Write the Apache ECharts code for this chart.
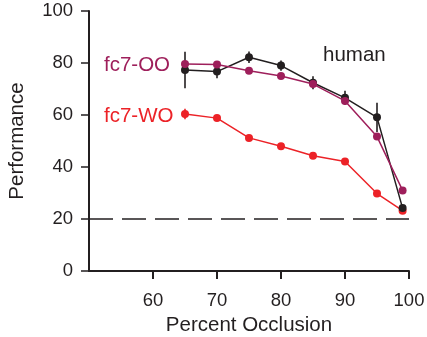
<!DOCTYPE html>
<html><head><meta charset="utf-8">
<script src="https://cdn.jsdelivr.net/npm/echarts@6/dist/echarts.min.js"></script>
<style>html,body{margin:0;padding:0;background:#fff}#c{width:427px;height:337px}</style>
</head><body><div id="c"></div>
<script>
const occlusion = [65, 70, 75, 80, 85, 90, 95, 99];
const human = [77.3, 76.7, 82.2, 79, 72.4, 66.6, 59.1, 24.2];
const humanErr = [7, 2.6, 2.2, 2, 2.5, 2.7, 5.6, 1];
const fc7OO = [79.6, 79.4, 77, 75, 71.9, 65.4, 51.7, 31];
const fc7WO = [60.4, 58.8, 51.2, 48, 44.3, 42.1, 29.8, 23.2];
const fc7WOErr = [2, 0, 0, 0, 0, 0, 0, 0];
const chance = 20;
const xTicks = [60, 70, 80, 90, 100];
const yTicks = [0, 20, 40, 60, 80, 100];

const cBlack = '#231f20', cPurple = '#9e1f5b', cRed = '#ec2227';
const font = 'Liberation Sans, Arial, sans-serif';

function pairs(v){ return occlusion.map((x,i)=>[x, v[i]]); }
function errData(v, e){ return occlusion.map((x,i)=>[x, v[i]-e[i], v[i]+e[i]]); }
function errSeries(v, e, color){
  return {
    type:'custom', data: errData(v,e), z: 1,
    renderItem(params, api){
      const p1 = api.coord([api.value(0), api.value(1)]);
      const p2 = api.coord([api.value(0), api.value(2)]);
      return {type:'line', shape:{x1:p1[0],y1:p1[1],x2:p2[0],y2:p2[1]}, style:{stroke:color, lineWidth:1.6}};
    }
  };
}
const chart = echarts.init(document.getElementById('c'));
chart.setOption({
  animation:false,
  grid:{left:89, right:18, top:11, bottom:66, containLabel:false, outerBoundsMode:'none'},
  xAxis:{type:'value', min:50, max:100, interval:10,
    name:'Percent Occlusion', nameLocation:'middle', nameGap:42,
    nameTextStyle:{fontFamily:font, fontSize:20.5, color:cBlack},
    axisLine:{show:true, lineStyle:{color:cBlack, width:2}},
    axisTick:{show:true, length:8, lineStyle:{color:cBlack, width:2}, customValues: xTicks},
    axisLabel:{fontFamily:font, fontSize:18.5, color:cBlack, margin:20, customValues: xTicks},
    splitLine:{show:false}},
  yAxis:{type:'value', min:0, max:100, interval:20,
    name:'Performance', nameLocation:'middle', nameGap:61,
    nameTextStyle:{fontFamily:font, fontSize:20.5, color:cBlack},
    axisLine:{show:true, lineStyle:{color:cBlack, width:2}},
    axisTick:{show:true, length:8, lineStyle:{color:cBlack, width:1.5}, customValues: yTicks},
    axisLabel:{fontFamily:font, fontSize:18.5, color:cBlack, margin:16, customValues: yTicks},
    splitLine:{show:false}},
  graphic:[
    {type:'text', x:104, y:65, style:{text:'fc7-OO', fill:cPurple, font:'20.5px '+font, textVerticalAlign:'middle'}},
    {type:'text', x:104, y:116, style:{text:'fc7-WO', fill:cRed, font:'20.5px '+font, textVerticalAlign:'middle'}},
    {type:'text', x:323, y:55, style:{text:'human', fill:cBlack, font:'20.5px '+font, textVerticalAlign:'middle'}}
  ],
  series:[
    {type:'line', data:[[50,chance],[100,chance]], symbol:'none', z:0,
      lineStyle:{color:cBlack, width:1.3, type:[24,9]}},
    errSeries(human, humanErr, cBlack),
    errSeries(fc7WO, fc7WOErr, cRed),
    {type:'line', data:pairs(fc7WO), symbol:'circle', symbolSize:8,
      itemStyle:{color:cRed}, lineStyle:{color:cRed, width:1.5}, z:2},
    {type:'line', data:pairs(human), symbol:'circle', symbolSize:8,
      itemStyle:{color:cBlack}, lineStyle:{color:cBlack, width:1.5}, z:3},
    {type:'line', data:pairs(fc7OO), symbol:'circle', symbolSize:8,
      itemStyle:{color:cPurple}, lineStyle:{color:cPurple, width:1.5}, z:4}
  ]
});
</script></body></html>
